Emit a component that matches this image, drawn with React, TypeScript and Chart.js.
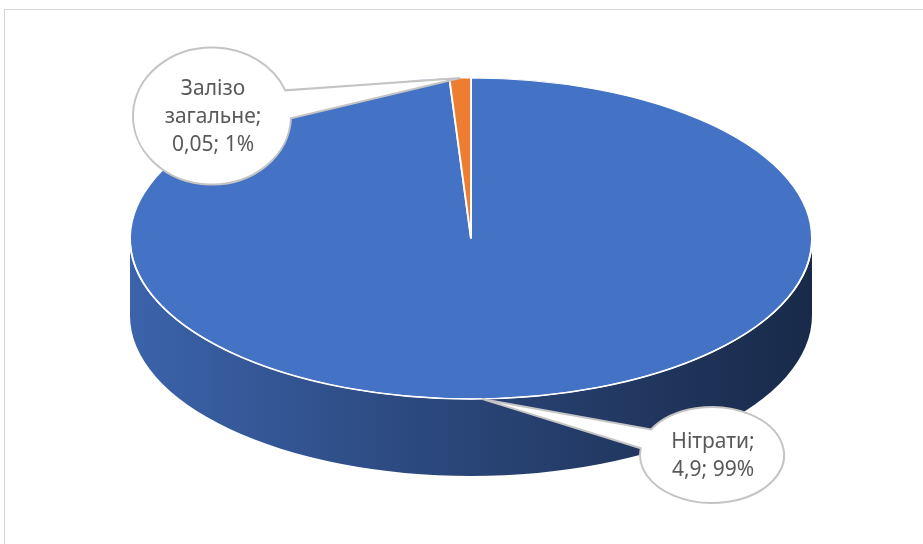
import React, { useEffect, useRef } from 'react';
import { Chart, registerables } from 'chart.js';

Chart.register(...registerables);

// ---- data ----
const LABELS = ['Нітрати', 'Залізо загальне'];
const VALUES = [4.9, 0.05];
const COLORS = ['#4472C4', '#ED7D31'];

// ---- styling / layout (not data) ----
const EX = 471;      // ellipse centre x of the top face
const EY = 238.5;    // ellipse centre y of the top face
const RX = 341;      // horizontal radius
const RY = 160.5;    // vertical radius
const DEPTH = 77;    // thickness of the 3D side
const CALLOUTS = [
  { cx: 712, cy: 455, rx: 72, ry: 48 },
  { cx: 212, cy: 116, rx: 79, ry: 68.5 },
];
const TEXT_FONT = '21px "Noto Sans"';
const LINE_GAP = 28;

function mix(hex: string, t: number) {
  const n = parseInt(hex.slice(1), 16);
  const r = (n >> 16) & 255, g = (n >> 8) & 255, b = n & 255;
  return `rgb(${Math.round(r * (1 - t))},${Math.round(g * (1 - t))},${Math.round(b * (1 - t))})`;
}

const fmt = (v: number) => String(v).replace('.', ',');

const pie3d = {
  id: 'pie3d',
  beforeDraw(chart: any) {
    const ctx = chart.ctx;
    ctx.save();
    ctx.strokeStyle = '#D6D6D6';
    ctx.lineWidth = 1;
    ctx.strokeRect(4.5, 9.5, 3000, 3000);
    ctx.restore();
  },
  beforeDatasetsDraw(chart: any) {
    const ctx = chart.ctx;
    const meta = chart.getDatasetMeta(0);
    // side walls for the front (visible) half
    meta.data.forEach((arc: any, i: number) => {
      const s = arc.startAngle, e = arc.endAngle;
      for (const off of [-2 * Math.PI, 0, 2 * Math.PI]) {
        const a = Math.max(s, off), b = Math.min(e, off + Math.PI);
        if (b > a) {
          const g = ctx.createLinearGradient(EX - RX, 0, EX + RX, 0);
          const col = COLORS[i];
          g.addColorStop(0, mix(col, 0.13));
          g.addColorStop(0.5, mix(col, 0.4));
          g.addColorStop(1, mix(col, 0.63));
          ctx.save();
          ctx.beginPath();
          ctx.ellipse(EX, EY, RX, RY, 0, a, b, false);
          ctx.ellipse(EX, EY + DEPTH, RX, RY, 0, b, a, true);
          ctx.closePath();
          ctx.fillStyle = g;
          ctx.fill();
          ctx.restore();
        }
      }
    });
    const a0 = meta.data[0];
    ctx.save();
    ctx.translate(EX, EY);
    ctx.scale(RX / a0.outerRadius, RY / a0.outerRadius);
    ctx.translate(-a0.x, -a0.y);
  },
  afterDatasetsDraw(chart: any) {
    const ctx = chart.ctx;
    ctx.restore();
    ctx.save();
    ctx.beginPath();
    ctx.ellipse(EX, EY, RX, RY, 0, 0, Math.PI, false);
    ctx.strokeStyle = '#FFFFFF';
    ctx.lineWidth = 1.6;
    ctx.stroke();
    ctx.restore();
  },
  afterDraw(chart: any) {
    const ctx = chart.ctx;
    const meta = chart.getDatasetMeta(0);
    const total = VALUES.reduce((p, c) => p + c, 0);
    meta.data.forEach((arc: any, i: number) => {
      const c = CALLOUTS[i];
      const mid = (arc.startAngle + arc.endAngle) / 2;
      const tx = EX + RX * Math.cos(mid);
      const ty = EY + RY * Math.sin(mid);
      const phi = Math.atan2((ty - c.cy) / c.ry, (tx - c.cx) / c.rx);
      const d = (12 * Math.PI) / 180;
      ctx.save();
      ctx.beginPath();
      ctx.ellipse(c.cx, c.cy, c.rx, c.ry, 0, phi + d, phi - d + 2 * Math.PI, false);
      ctx.lineTo(tx, ty);
      ctx.closePath();
      ctx.fillStyle = '#FFFFFF';
      ctx.fill();
      ctx.strokeStyle = '#C4C4C4';
      ctx.lineWidth = 2;
      ctx.stroke();

      const words = LABELS[i].split(' ');
      words[words.length - 1] += ';';
      const pct = Math.round((VALUES[i] / total) * 100);
      const lines = [...words, `${fmt(VALUES[i])}; ${pct}%`];
      ctx.fillStyle = '#595959';
      ctx.font = TEXT_FONT;
      ctx.textAlign = 'center';
      ctx.textBaseline = 'middle';
      const y0 = c.cy - ((lines.length - 1) * LINE_GAP) / 2 + 1;
      lines.forEach((ln, k) => ctx.fillText(ln, c.cx + 1, y0 + k * LINE_GAP));
      ctx.restore();
    });
  },
};

export default function App() {
  const ref = useRef<HTMLCanvasElement | null>(null);
  useEffect(() => {
    if (!ref.current) return;
    const chart = new Chart(ref.current, {
      type: 'pie',
      data: {
        labels: LABELS,
        datasets: [
          {
            data: VALUES,
            backgroundColor: COLORS,
            borderColor: '#FFFFFF',
            borderWidth: 1.5,
            clip: false as any,
          },
        ],
      },
      options: {
        responsive: false,
        animation: false,
        events: [],
        plugins: {
          legend: { display: false },
          tooltip: { enabled: false },
        },
      },
      plugins: [pie3d],
    });
    return () => chart.destroy();
  }, []);
  return (
    <div style={{ position: 'absolute', left: 0, top: 0, width: 923, height: 544, background: '#FFFFFF' }}>
      <canvas ref={ref} width={923} height={544} style={{ display: 'block' }} />
    </div>
  );
}
